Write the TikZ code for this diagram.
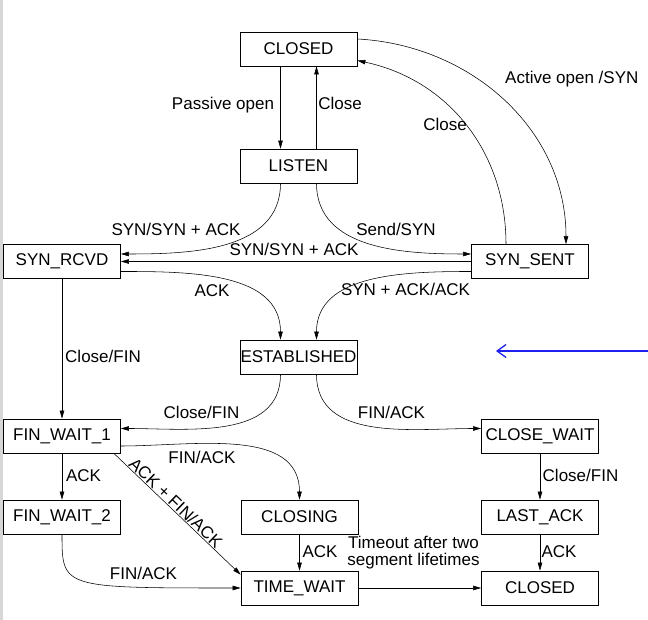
\documentclass[tikz,border=0pt]{standalone}
\usepackage{fontspec}
\setmainfont{Liberation Sans}
\usepackage{xcolor}
\usepackage{tikz}
\usetikzlibrary{arrows.meta}
\definecolor{pointer}{HTML}{1F1FF0}
\definecolor{sidebar}{HTML}{D6D6D6}
\newcommand{\statefont}{\fontsize{17}{17}\selectfont}
\tikzset{
  st/.style={draw,line width=0.7pt,minimum width=117pt,minimum height=34pt,inner sep=0pt,font=\statefont},
  tr/.style={-{Triangle[length=8pt,width=4.5pt]},line width=0.55pt},
  lbl/.style={font=\statefont,inner sep=1pt,text height=12pt,text depth=0pt}
}

\begin{document}
\begin{tikzpicture}[x=1pt,y=1pt]
\useasboundingbox (0,0) rectangle (648,620);
\fill[sidebar] (0,0) rectangle (2.6,620);
% states
\node[st] (closed)  at (298.5,571) {CLOSED};
\node[st] (listen)  at (298.5,454) {LISTEN};
\node[st] (synrcvd) at (62,358.5) {SYN\_RCVD};
\node[st] (synsent) at (530,358.5) {SYN\_SENT};
\node[st] (estab)   at (298.5,263) {ESTABLISHED};
\node[st] (fw1)     at (62,184) {FIN\_WAIT\_1};
\node[st] (clwait)  at (540,184) {CLOSE\_WAIT};
\node[st] (fw2)     at (62,103) {FIN\_WAIT\_2};
\node[st] (closing) at (299.5,103) {CLOSING};
\node[st] (lastack) at (540,103) {LAST\_ACK};
\node[st] (twait)   at (299.5,32) {TIME\_WAIT};
\node[st] (closed2) at (540,32) {CLOSED};
% transitions
\draw[tr] ([xshift=-18pt]closed.south) -- ([xshift=-18pt]listen.north);
\draw[tr] ([xshift=18pt]listen.north) -- ([xshift=18pt]closed.south);
\draw[tr] ([yshift=10pt]closed.east) to[out=-3,in=90] ([xshift=36pt]synsent.north);
\draw[tr] ([xshift=-24pt]synsent.north) to[out=90,in=-12] ([yshift=-11.5pt]closed.east);
\draw[tr] ([xshift=-18pt]listen.south) to[out=-90,in=0] ([yshift=7.5pt]synrcvd.east);
\draw[tr] ([xshift=18pt]listen.south) to[out=-90,in=180] ([yshift=7.5pt]synsent.west);
\draw[tr] (synsent.west) -- (synrcvd.east);
\draw[tr] ([yshift=-10pt]synrcvd.east) to[out=0,in=90] ([xshift=-18pt]estab.north);
\draw[tr] ([yshift=-10pt]synsent.west) to[out=180,in=90] ([xshift=18pt]estab.north);
\draw[tr] (synrcvd) -- (fw1);
\draw[tr] ([xshift=-18pt]estab.south) to[out=-90,in=0] ([yshift=7.5pt]fw1.east);
\draw[tr] ([xshift=18pt]estab.south) to[out=-90,in=180] ([yshift=7.5pt]clwait.west);
\draw[tr] ([yshift=-10pt]fw1.east) to[out=0,in=90] (closing.north);
\draw[tr] (fw1) -- (fw2);
\draw[tr] ([xshift=-7pt]fw1.south east) -- ([yshift=-4pt]twait.north west)
  node[lbl,sloped,above,pos=0.45] {ACK + FIN/ACK};
\draw[tr] (fw2.south) .. controls (fw2.south |- twait.west) .. (twait.west);
\draw[tr] (closing) -- (twait);
\draw[tr] (twait) -- (closed2);
\draw[tr] (clwait) -- (lastack);
\draw[tr] (lastack) -- (closed2);
% labels
\node[lbl] (lPassive)   at (223,516)   {Passive open};
\node[lbl] (lClose1)    at (340,516)   {Close};
\node[lbl,anchor=west] (lActive) at (504,542) {Active open /SYN};
\node[lbl] (lClose2)    at (445,495)   {Close};
\node[lbl] (lSynAck1)   at (176,390)   {SYN/SYN + ACK};
\node[lbl] (lSend)      at (396,390)   {Send/SYN};
\node[lbl] (lSynAck2)   at (294,370)   {SYN/SYN + ACK};
\node[lbl] (lAck1)      at (212,329)   {ACK};
\node[lbl] (lSynAckAck) at (405.5,330) {SYN + ACK/ACK};
\node[lbl] (lCloseFin1) at (103,263)   {Close/FIN};
\node[lbl] (lCloseFin2) at (201.5,207) {Close/FIN};
\node[lbl] (lFinAck1)   at (391.5,207) {FIN/ACK};
\node[lbl] (lFinAck2)   at (202,162)   {FIN/ACK};
\node[lbl] (lAck2)      at (83.5,144)  {ACK};
\node[lbl] (lCloseFin3) at (580.5,144) {Close/FIN};
\node[lbl] (lAck3)      at (320,68)    {ACK};
\node[font=\statefont,inner sep=1pt,align=center] (lTimeout) at (413.5,67) {Timeout after two\\segment lifetimes};
\node[lbl] (lAck4)      at (559,68)    {ACK};
\node[lbl] (lFinAck3)   at (143.5,46)  {FIN/ACK};
% pointer
\coordinate (ptrFrom) at (648,269);
\coordinate (ptrTo) at (496,269);
\draw[pointer,line width=1.3pt,-{Straight Barb[length=9pt,width=13pt]}] (ptrFrom) -- (ptrTo);
\end{tikzpicture}
\end{document}
